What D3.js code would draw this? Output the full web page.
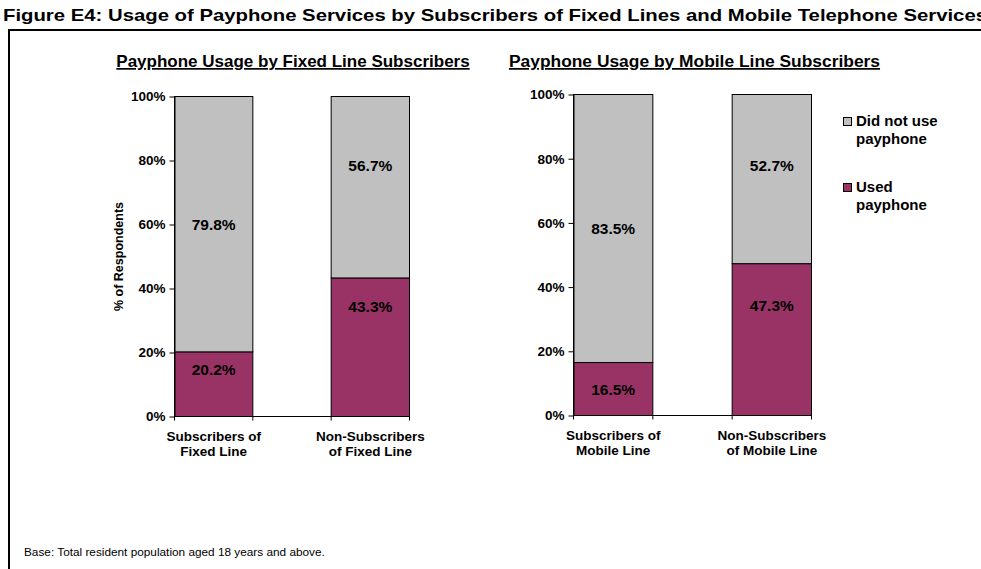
<!DOCTYPE html>
<html>
<head>
<meta charset="utf-8">
<script src="https://cdn.jsdelivr.net/npm/d3@7"></script>
<style>
  body { margin: 0; background: #fff; }
  svg { display: block; font-family: "Liberation Sans", Arial, sans-serif; }
</style>
</head>
<body>
<svg id="chart" width="981" height="569"></svg>
<script>
// Survey results: share of respondents who used / did not use a payphone
const fixedCategories = [["Subscribers of", "Fixed Line"], ["Non-Subscribers", "of Fixed Line"]];
const fixedUsed = [20.2, 43.3];
const fixedNotUsed = [79.8, 56.7];

const mobileCategories = [["Subscribers of", "Mobile Line"], ["Non-Subscribers", "of Mobile Line"]];
const mobileUsed = [16.5, 47.3];
const mobileNotUsed = [83.5, 52.7];

const yTicks = [0, 20, 40, 60, 80, 100];
const seriesNames = [["Did not use", "payphone"], ["Used", "payphone"]];
const colors = { notUsed: "#C0C0C0", used: "#993366" };

const svg = d3.select("#chart");

// Figure title (runs off the right edge) and outer frame
svg.append("text")
  .attr("x", 3).attr("y", 21)
  .attr("font-size", 16.5).attr("font-weight", "bold")
  .attr("textLength", 984).attr("lengthAdjust", "spacingAndGlyphs")
  .text("Figure E4: Usage of Payphone Services by Subscribers of Fixed Lines and Mobile Telephone Services");

svg.append("path")
  .attr("d", "M9,580 V30 H990")
  .attr("fill", "none").attr("stroke", "#000").attr("stroke-width", 2);

function drawPanel(cfg) {
  const g = svg.append("g");
  const y = d3.scaleLinear().domain([0, 100]).range([cfg.bottom, cfg.top]);
  const x = d3.scaleBand().domain(d3.range(cfg.categories.length))
    .range([cfg.left, cfg.right]).paddingInner(0.5).paddingOuter(0);

  // panel title (underlined)
  g.append("text")
    .attr("x", cfg.titleX).attr("y", 67)
    .attr("text-anchor", "middle")
    .attr("font-size", cfg.titleSize).attr("font-weight", "bold")
    .attr("text-decoration", "underline")
    .text(cfg.title);

  // stacked bars
  cfg.categories.forEach((c, i) => {
    const used = cfg.used[i], notUsed = cfg.notUsed[i];
    g.append("rect")
      .attr("x", x(i)).attr("width", x.bandwidth())
      .attr("y", y(used)).attr("height", y(0) - y(used))
      .attr("fill", colors.used).attr("stroke", "#000").attr("stroke-width", 1);
    g.append("rect")
      .attr("x", x(i)).attr("width", x.bandwidth())
      .attr("y", y(used + notUsed)).attr("height", y(used) - y(used + notUsed))
      .attr("fill", colors.notUsed).attr("stroke", "#000").attr("stroke-width", 1);

    // value labels: segment centre plus a small nudge
    const cx = x(i) + x.bandwidth() / 2;
    [[used / 2, used, cfg.nudgeUsed[i]], [used + notUsed / 2, notUsed, cfg.nudgeNotUsed[i]]]
      .forEach(([mid, v, dy]) => {
        g.append("text")
          .attr("x", cx).attr("y", y(mid) + dy + 5.5)
          .attr("text-anchor", "middle")
          .attr("font-size", 15.5).attr("font-weight", "bold")
          .text(v.toFixed(1) + "%");
      });

    // category labels
    c.forEach((line, k) => {
      g.append("text")
        .attr("x", cx).attr("y", cfg.bottom + 24 + k * 15)
        .attr("text-anchor", "middle")
        .attr("font-size", 13.5).attr("font-weight", "bold")
        .text(line);
    });
  });

  // y axis
  const yAxis = d3.axisLeft(y).tickValues(yTicks).tickFormat(d => d + "%").tickSize(5).tickSizeOuter(0);
  const ya = g.append("g").attr("transform", `translate(${cfg.left},0)`).call(yAxis);
  ya.select(".domain").attr("stroke", "#000");
  ya.selectAll("text").attr("font-size", 13.5).attr("font-weight", "bold")
    .attr("font-family", "Liberation Sans, Arial, sans-serif").attr("fill", "#000").attr("x", -9);

  // x axis with ticks at each bar edge
  const edges = [];
  x.domain().forEach(i => { edges.push(x(i)); edges.push(x(i) + x.bandwidth()); });
  g.append("line")
    .attr("x1", cfg.left).attr("x2", cfg.right)
    .attr("y1", cfg.bottom).attr("y2", cfg.bottom)
    .attr("stroke", "#000");
  g.selectAll(".xt").data(edges).join("line")
    .attr("x1", d => d).attr("x2", d => d)
    .attr("y1", cfg.bottom).attr("y2", cfg.bottom + 4)
    .attr("stroke", "#000");

  if (cfg.yTitle) {
    g.append("text")
      .attr("transform", `translate(123,${(cfg.top + cfg.bottom) / 2}) rotate(-90)`)
      .attr("text-anchor", "middle")
      .attr("font-size", 12.5).attr("font-weight", "bold")
      .text(cfg.yTitle);
  }
}

drawPanel({
  title: "Payphone Usage by Fixed Line Subscribers", titleX: 293, titleSize: 17,
  categories: fixedCategories, used: fixedUsed, notUsed: fixedNotUsed,
  nudgeUsed: [-15, -41], nudgeNotUsed: [0, -22],
  left: 174.5, right: 409.5, top: 96.5, bottom: 416.5,
  yTitle: "% of Respondents"
});

drawPanel({
  title: "Payphone Usage by Mobile Line Subscribers", titleX: 694.5, titleSize: 17.4,
  categories: mobileCategories, used: mobileUsed, notUsed: mobileNotUsed,
  nudgeUsed: [0, -34], nudgeNotUsed: [0, -14],
  left: 573.5, right: 811.5, top: 94.5, bottom: 415.5
});

// legend
const legendColors = [colors.notUsed, colors.used];
seriesNames.forEach((lines, i) => {
  const ly = 117 + i * 66;
  svg.append("rect")
    .attr("x", 843.5).attr("y", ly + 0.5).attr("width", 8).attr("height", 8)
    .attr("fill", legendColors[i]).attr("stroke", "#000");
  lines.forEach((line, k) => {
    svg.append("text")
      .attr("x", 856).attr("y", ly + 9 + k * 18)
      .attr("font-size", 15).attr("font-weight", "bold")
      .text(line);
  });
});

// footnote
svg.append("text")
  .attr("x", 24).attr("y", 556)
  .attr("font-size", 11.8)
  .text("Base: Total resident population aged 18 years and above.");
</script>
</body>
</html>
